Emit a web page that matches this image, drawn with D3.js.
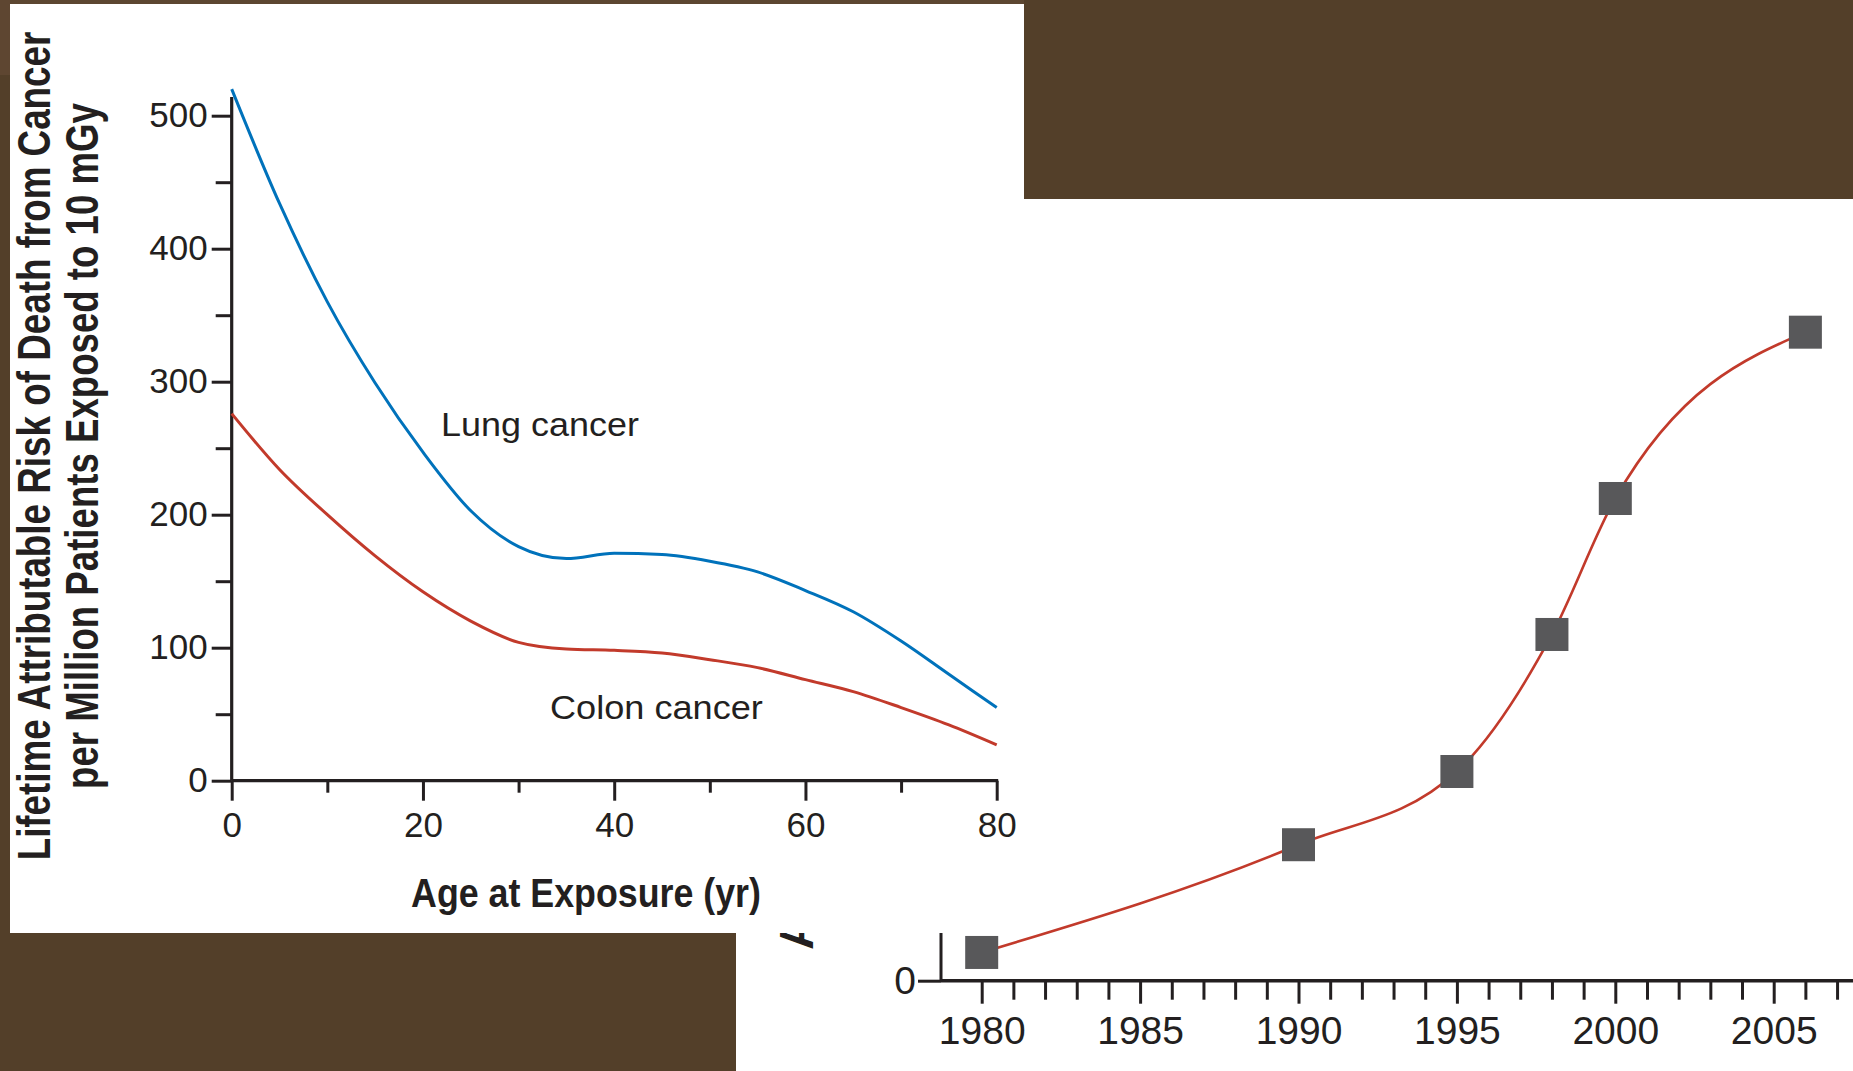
<!DOCTYPE html>
<html>
<head>
<meta charset="utf-8">
<script src="https://cdn.jsdelivr.net/npm/d3@7"></script>
<style>
  html, body { margin: 0; padding: 0; background: #533f29; overflow: hidden; }
  svg { display: block; }
  text { font-family: "Liberation Sans", Arial, sans-serif; fill: #231f20; }
</style>
</head>
<body>
<svg class="main-graphic"></svg>
<script>
// left panel: lifetime attributable risk by age at exposure
var ages = [0, 5, 10, 15, 20, 25, 30, 35, 40, 45, 50, 55, 60, 65, 70, 75, 80];
var lungRisk = [520, 434, 360, 299, 247, 203, 176, 167, 171, 170, 165, 157, 143, 127, 105, 80, 55];
var colonRisk = [276, 234, 200, 169, 142, 120, 104, 99, 98, 96, 91, 85, 76, 67, 55, 42, 27];
var riskTicks = [0, 100, 200, 300, 400, 500];
var riskMinorTicks = [50, 150, 250, 350, 450];
var ageTicks = [0, 20, 40, 60, 80];
var ageMinorTicks = [10, 30, 50, 70];

// right panel (mostly covered by the left one): scans per year
var years = [1980, 1990, 1995, 1998, 2000, 2006];
var scans = [2.7, 13, 20, 33.1, 46.1, 62];
var yearTicks = [1980, 1985, 1990, 1995, 2000, 2005];
var yearMinorTicks = d3.range(1981, 2009).filter(function(d) { return d % 5 != 0; });
var scanTicks = [0];

var W = 1853, H = 1071;
var ink = "#231f20";
var blue = "#0072bb", red = "#c23a2b";

var svg = d3.select(".main-graphic")
    .attr("width", W)
    .attr("height", H);

// squeeze a text along its own direction so it spans `len` pixels
function squeeze(sel, x, y, len, rot) {
  var k = len / sel.node().getComputedTextLength();
  sel.attr("transform", "translate(" + x + "," + y + ")" + (rot ? " rotate(" + rot + ")" : "") + " scale(" + k + ",1)");
}

svg.append("rect")
    .attr("width", W)
    .attr("height", H)
    .attr("fill", "#533f29");
svg.append("rect")
    .attr("x", 0).attr("y", 0)
    .attr("width", 10).attr("height", 75)
    .attr("fill", "#5e4631");
svg.append("rect")
    .attr("x", 10).attr("y", 0)
    .attr("width", 1014).attr("height", 4)
    .attr("fill", "#5c4631");

// ---- right panel ----
var panel2 = svg.append("g").attr("class", "panel2");
panel2.append("rect")
    .attr("x", 736).attr("y", 199)
    .attr("width", W - 736).attr("height", H - 199)
    .attr("fill", "#fff");

var x2 = d3.scaleLinear().domain([1980, 2005]).range([981.7, 1773.7]);
var y2 = d3.scaleLinear().domain([0, 70]).range([980.7, 248.5]);
var axis2X = 941;

// y title of right panel, only its first letter peeks out
panel2.append("text")
    .attr("transform", "translate(813,950) rotate(-90)")
    .attr("text-anchor", "start")
    .style("font-size", "48px")
    .style("font-weight", "bold")
    .text("Annual No. of CT Scans (millions)");

panel2.append("g")
    .attr("color", ink)
    .attr("transform", "translate(0," + y2(0) + ")")
    .call(d3.axisBottom(x2).tickValues(yearMinorTicks).tickSize(19).tickFormat("").tickSizeOuter(0))
    .call(function(g) { g.select(".domain").remove(); })
    .selectAll("line").attr("stroke-width", 3);

var yearAxis = panel2.append("g")
    .attr("color", ink)
    .attr("transform", "translate(0," + y2(0) + ")")
    .call(d3.axisBottom(x2).tickValues(yearTicks).tickSize(23).tickPadding(13).tickFormat(d3.format("d")).tickSizeOuter(0));
yearAxis.select(".domain").remove();
yearAxis.selectAll("line").attr("stroke-width", 3);
yearAxis.selectAll("text").style("font-size", "39px");

var scanAxis = panel2.append("g")
    .attr("color", ink)
    .attr("transform", "translate(" + axis2X + ",0)")
    .call(d3.axisLeft(y2).tickValues(scanTicks).tickSize(23).tickPadding(2).tickSizeOuter(0));
scanAxis.select(".domain").remove();
scanAxis.selectAll("line").attr("stroke-width", 3);
scanAxis.selectAll("text").style("font-size", "39px");

panel2.append("line")
    .attr("x1", axis2X).attr("x2", W)
    .attr("y1", y2(0)).attr("y2", y2(0))
    .attr("stroke", ink).attr("stroke-width", 3.5);
panel2.append("line")
    .attr("x1", axis2X).attr("x2", axis2X)
    .attr("y1", y2(0)).attr("y2", y2(70))
    .attr("stroke", ink).attr("stroke-width", 3);

var scanLine = d3.line()
    .x(function(d, i) { return x2(years[i]); })
    .y(function(d) { return y2(d); })
    .curve(d3.curveMonotoneX);

panel2.append("path")
    .datum(scans)
    .attr("d", scanLine)
    .attr("fill", "none")
    .attr("stroke", red)
    .attr("stroke-width", 2.6);

panel2.selectAll(".sq")
    .data(scans)
  .enter().append("rect")
    .attr("class", "sq")
    .attr("x", function(d, i) { return x2(years[i]) - 16.5; })
    .attr("y", function(d) { return y2(d) - 16.5; })
    .attr("width", 33)
    .attr("height", 33)
    .attr("fill", "#58585a");

// ---- left panel ----
var panel1 = svg.append("g").attr("class", "panel1");
panel1.append("rect")
    .attr("x", 10).attr("y", 4)
    .attr("width", 1014).attr("height", 929)
    .attr("fill", "#fff");

var x1 = d3.scaleLinear().domain([0, 80]).range([231.7, 996.7]);
var y1 = d3.scaleLinear().domain([0, 500]).range([780.7, 115.7]);

var yMinor = panel1.append("g")
    .attr("color", ink)
    .attr("transform", "translate(" + x1(0) + ",0)")
    .call(d3.axisLeft(y1).tickValues(riskMinorTicks).tickSize(16).tickFormat("").tickSizeOuter(0));
yMinor.select(".domain").remove();
yMinor.selectAll("line").attr("stroke-width", 3);

var yAxis = panel1.append("g")
    .attr("color", ink)
    .attr("transform", "translate(" + x1(0) + ",0)")
    .call(d3.axisLeft(y1).tickValues(riskTicks).tickSize(20).tickPadding(4).tickSizeOuter(0));
yAxis.select(".domain").remove();
yAxis.selectAll("line").attr("stroke-width", 3);
yAxis.selectAll("text").style("font-size", "35px");

var xMinor = panel1.append("g")
    .attr("color", ink)
    .attr("transform", "translate(0," + y1(0) + ")")
    .call(d3.axisBottom(x1).tickValues(ageMinorTicks).tickSize(12).tickFormat("").tickSizeOuter(0));
xMinor.select(".domain").remove();
xMinor.selectAll("line").attr("stroke-width", 3);

var xAxis = panel1.append("g")
    .attr("color", ink)
    .attr("transform", "translate(0," + y1(0) + ")")
    .call(d3.axisBottom(x1).tickValues(ageTicks).tickSize(20).tickPadding(11).tickSizeOuter(0));
xAxis.select(".domain").remove();
xAxis.selectAll("line").attr("stroke-width", 3);
xAxis.selectAll("text").style("font-size", "35px");

panel1.append("line")
    .attr("x1", x1(0)).attr("x2", x1(0))
    .attr("y1", y1(0)).attr("y2", y1(514))
    .attr("stroke", ink).attr("stroke-width", 3.2);
panel1.append("line")
    .attr("x1", x1(0)).attr("x2", x1(80) + 1.5)
    .attr("y1", y1(0)).attr("y2", y1(0))
    .attr("stroke", ink).attr("stroke-width", 3.2);

var riskLine = d3.line()
    .x(function(d, i) { return x1(ages[i]); })
    .y(function(d) { return y1(d); })
    .curve(d3.curveMonotoneX);

panel1.append("path")
    .datum(colonRisk)
    .attr("d", riskLine)
    .attr("fill", "none")
    .attr("stroke", red)
    .attr("stroke-width", 3);

panel1.append("path")
    .datum(lungRisk)
    .attr("d", riskLine)
    .attr("fill", "none")
    .attr("stroke", blue)
    .attr("stroke-width", 3);

var lungLabel = panel1.append("text")
    .style("font-size", "33px")
    .text("Lung cancer");
squeeze(lungLabel, 441, 436, 198);

var colonLabel = panel1.append("text")
    .style("font-size", "33px")
    .text("Colon cancer");
squeeze(colonLabel, 550, 719, 213);

var xTitle = panel1.append("text")
    .attr("text-anchor", "middle")
    .style("font-size", "40px")
    .style("font-weight", "bold")
    .text("Age at Exposure (yr)");
squeeze(xTitle, 586, 907, 350);

var yTitle1 = panel1.append("text")
    .attr("text-anchor", "middle")
    .style("font-size", "46px")
    .style("font-weight", "bold")
    .text("Lifetime Attributable Risk of Death from Cancer");
squeeze(yTitle1, 50, 446, 829, -90);

var yTitle2 = panel1.append("text")
    .attr("text-anchor", "middle")
    .style("font-size", "46px")
    .style("font-weight", "bold")
    .text("per Million Patients Exposed to 10 mGy");
squeeze(yTitle2, 98, 446, 686, -90);
</script>
</body>
</html>
